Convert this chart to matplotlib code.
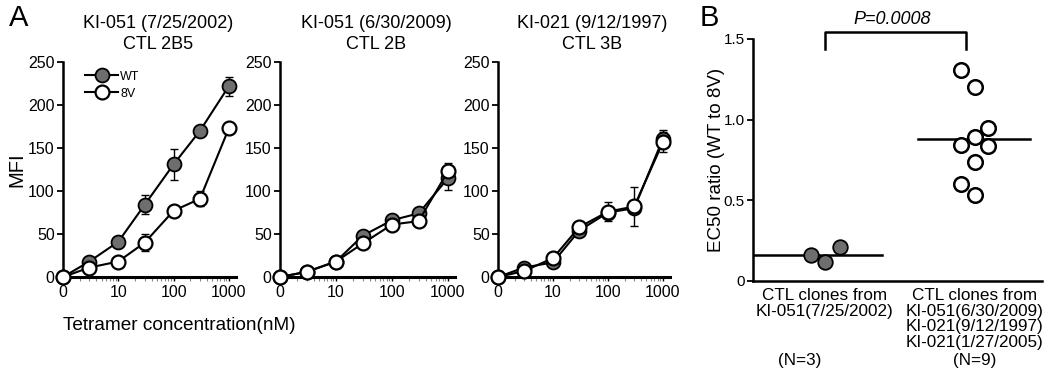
import numpy as np
import matplotlib.pyplot as plt

plt.rcParams['font.family'] = ['Liberation Sans', 'DejaVu Sans']

conc = np.array([0, 3, 10, 30, 100, 300, 1000])

titles = ['KI-051 (7/25/2002)\nCTL 2B5', 'KI-051 (6/30/2009)\nCTL 2B', 'KI-021 (9/12/1997)\nCTL 3B']
wt = [[0, 18, 41, 84, 131, 170, 222],
      [0, 6, 18, 48, 66, 74, 115],
      [0, 11, 17, 54, 75, 80, 161]]
wt_err = [[0, 0, 0, 11, 18, 0, 11],
          [0, 0, 0, 0, 0, 0, 14],
          [0, 0, 0, 0, 0, 0, 10]]
v8 = [[0, 11, 18, 40, 77, 91, 173],
      [0, 6, 18, 39, 61, 65, 123],
      [0, 7, 22, 58, 76, 82, 157]]
v8_err = [[0, 0, 0, 10, 0, 9, 0],
          [0, 0, 0, 0, 0, 0, 10],
          [0, 0, 0, 0, 11, 23, 12]]

# panel B
grp_pos = [0, 1]
grp1_x = [-0.09, 0.0, 0.10]
grp1_y = [0.16, 0.115, 0.21]
grp2_x = [-0.09, 0.0, 0.09, 0.0, -0.09, 0.09, 0.0, -0.09, 0.0]
grp2_y = [1.31, 1.20, 0.95, 0.89, 0.84, 0.835, 0.74, 0.60, 0.53]
medians = [0.16, 0.88]
grp_labels = ['CTL clones from\nKI-051(7/25/2002)',
              'CTL clones from\nKI-051(6/30/2009)\nKI-021(9/12/1997)\nKI-021(1/27/2005)']
n_labels = ['(N=3)', '(N=9)']

W, H = 1050, 380
fig = plt.figure(figsize=(W / 100, H / 100), dpi=100)

def px(l, b, w, h):
    return [l / W, 1 - (b) / H, w / W, h / H]

gray = '#6e6e6e'
xpos = np.log10(np.where(conc > 0, conc, 1))
lefts = [63, 280, 498]
ppd = [55.3, 56, 55]

for i in range(3):
    width = 3.12 * ppd[i]
    ax = fig.add_axes(px(lefts[i], 277, width, 215))
    ax.plot(xpos, wt[i], '-o', color='black', mfc=gray, mec='black', ms=10, mew=1.3,
            lw=1.5, clip_on=False, zorder=3, label='WT')
    ax.errorbar(xpos, wt[i], yerr=wt_err[i], fmt='none', ecolor='black', elinewidth=1,
                capsize=3, zorder=2)
    ax.plot(xpos, v8[i], '-o', color='black', mfc='white', mec='black', ms=10, mew=1.6,
            lw=1.5, clip_on=False, zorder=4, label='8V')
    ax.errorbar(xpos, v8[i], yerr=v8_err[i], fmt='none', ecolor='black', elinewidth=1,
                capsize=3, zorder=2)
    ax.set_xlim(0, 3.12)
    ax.set_ylim(0, 250)
    ax.set_yticks([0, 50, 100, 150, 200, 250])
    ax.set_xticks([0, 1, 2, 3])
    ax.set_xticklabels(['0', '10', '100', '1000'])
    minor = [np.log10(k * 10 ** d) for d in range(3) for k in range(2, 10)]
    ax.set_xticks(minor, minor=True)
    ax.tick_params(axis='x', which='minor', length=3, width=0.8, color='#888888')
    ax.tick_params(axis='x', which='major', length=3, width=1, labelsize=11.5, pad=3)
    ax.tick_params(axis='y', length=4, width=1.3, labelsize=11.5, pad=2)
    for s in ['top', 'right']:
        ax.spines[s].set_visible(False)
    ax.spines['left'].set_linewidth(1.8)
    ax.spines['bottom'].set_linewidth(2.2)
    ax.text(0.55, 1.04, titles[i], transform=ax.transAxes, ha='center', va='bottom',
            fontsize=13, linespacing=1.35)
    if i == 0:
        ax.set_ylabel('MFI', fontsize=14.5, labelpad=1)
        ax.legend(loc='upper left', bbox_to_anchor=(0.13, 0.96), frameon=False,
                  fontsize=9, handlelength=2.6, handletextpad=0.2, labelspacing=0.4,
                  borderpad=0, borderaxespad=0)

fig.text(63 / W, 1 - 325 / H, 'Tetramer concentration(nM)', fontsize=13.7, va='center')
fig.text(9 / W, 1 - 18 / H, 'A', fontsize=21, va='center')
fig.text(700 / W, 1 - 18 / H, 'B', fontsize=21, va='center')

# panel B
axb = fig.add_axes(px(753, 281, 289, 242))
axb.scatter(np.array(grp1_x) + grp_pos[0], grp1_y, s=110, c=gray, edgecolors='black',
            linewidths=1.3, zorder=3)
axb.scatter(np.array(grp2_x) + grp_pos[1], grp2_y, s=110, c='white', edgecolors='black',
            linewidths=1.8, zorder=3)
axb.plot([-0.47, 0.38], [medians[0]] * 2, color='black', lw=1.8)
axb.plot([0.62, 1.37], [medians[1]] * 2, color='black', lw=1.8)
axb.set_xlim(-0.48, 1.447)
axb.set_ylim(0, 1.5)
axb.set_yticks([0, 0.5, 1.0, 1.5])
axb.set_yticklabels(['0', '0.5', '1.0', '1.5'])
axb.set_xticks(grp_pos)
axb.set_xticklabels(grp_labels)
for t in axb.get_xticklabels():
    t.set_linespacing(1.05)
    t.set_fontsize(12.3)
axb.tick_params(axis='x', length=0, pad=5)
axb.tick_params(axis='y', length=4, width=1.3, labelsize=11, pad=2)
for s in ['top', 'right']:
    axb.spines[s].set_visible(False)
axb.spines['left'].set_linewidth(1.8)
axb.spines['bottom'].set_linewidth(1.8)
axb.set_ylabel('EC50 ratio (WT to 8V)', fontsize=13.5, labelpad=-1)
axb.text(-0.17, -0.33, n_labels[0], transform=axb.get_xaxis_transform(), ha='center',
         va='center', fontsize=12.3)
axb.text(1.0, -0.33, n_labels[1], transform=axb.get_xaxis_transform(), ha='center',
         va='center', fontsize=12.3)
axb.plot([0, 0, 0.94, 0.94], [1.44, 1.545, 1.545, 1.44], color='black', lw=1.8,
         clip_on=False)
axb.text(0.45, 1.57, 'P=0.0008', fontsize=13, style='italic', ha='center',
         va='bottom')

fig.savefig('out.png', dpi=100)
